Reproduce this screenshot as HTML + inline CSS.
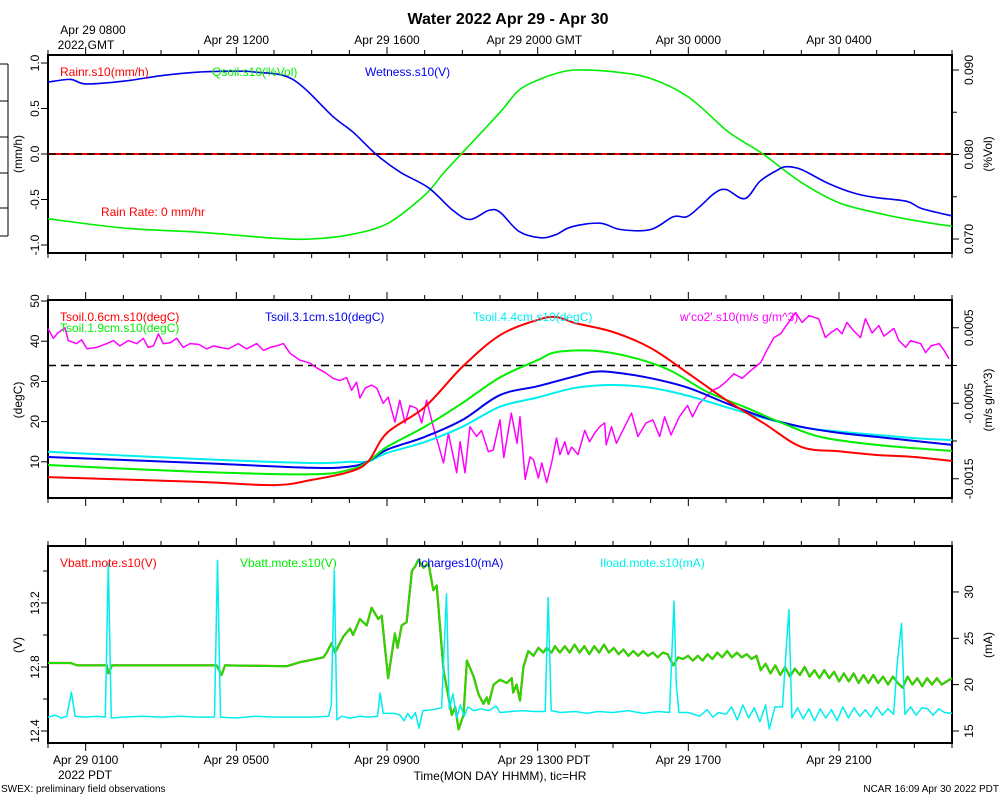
<!DOCTYPE html>
<html><head><meta charset="utf-8"><title>Water 2022 Apr 29 - Apr 30</title>
<style>
html,body{margin:0;padding:0;background:#fff;overflow:hidden;}
svg{display:block;font-family:"Liberation Sans",sans-serif;}
</style></head>
<body>
<svg id="chart" width="1000" height="800" viewBox="0 0 1000 800" xmlns="http://www.w3.org/2000/svg">
<rect width="1000" height="800" fill="#fff"/>
<text x="508" y="24" font-size="16" font-weight="bold" text-anchor="middle">Water 2022 Apr 29 - Apr 30</text>
<g id="g"></g>
<text x="500" y="780" font-size="12" text-anchor="middle">Time(MON DAY HHMM), tic=HR</text>
<text x="1" y="792" font-size="10">SWEX: preliminary field observations</text>
<text x="999" y="792" font-size="10" text-anchor="end">NCAR 16:09 Apr 30 2022 PDT</text>
</svg>
<script>
// ---------- data ----------
const topTickLabels = ["Apr 29 1200","Apr 29 1600","Apr 29 2000 GMT","Apr 30 0000","Apr 30 0400"];
const topTickHours = [5,9,13,17,21];
const botTickLabels = ["Apr 29 0100","Apr 29 0500","Apr 29 0900","Apr 29 1300 PDT","Apr 29 1700","Apr 29 2100"];
const botTickHours = [1,5,9,13,17,21];

const rainH = [0,24];
const rainV = [0,0];
const wetH = [0,0.6,1,2,3,4,5,5.5,6.5,7.57,8.1,8.7,9.35,10.1,10.75,11.2,11.7,12,12.5,13.06,13.46,13.9,14.65,15.2,16,16.6,16.96,17.3,17.7,18,18.5,18.9,19.35,19.6,20,20.7,21.4,22,22.8,23.2,24];
const wetV = [0.79,0.82,0.77,0.8,0.86,0.9,0.91,0.9,0.82,0.41,0.24,0.0,-0.2,-0.37,-0.62,-0.72,-0.62,-0.64,-0.85,-0.92,-0.89,-0.8,-0.76,-0.83,-0.83,-0.69,-0.69,-0.58,-0.43,-0.39,-0.49,-0.3,-0.18,-0.14,-0.17,-0.32,-0.43,-0.48,-0.52,-0.6,-0.68];
const qH = [0,2,4,6,7,8,9,10,10.5,11,12,12.5,13,13.5,14,15,16,17,18,18.5,19,20,21,22,23,24];
const qV = [0.0724,0.0713,0.0708,0.0701,0.0700,0.0705,0.0718,0.0752,0.0778,0.0802,0.0850,0.0876,0.0888,0.0896,0.0900,0.0898,0.0890,0.0868,0.0829,0.0814,0.0800,0.0767,0.0743,0.0731,0.0722,0.0715];

const t06H = [0,4,6,7,8,8.5,9,10,11,12,13,13.5,14,15,16,17,18,19,20,21,22,23,24];
const t06V = [6.2,5.0,4.2,5.5,7.5,10.1,17.2,23.6,33.6,41.5,45.3,46,44.5,42.3,38.3,32,25.4,19.6,13.7,12.6,11.7,11.2,10.2];
const t19H = [0,4,7,8,8.5,9,10,11,12,13,13.5,14.5,15.5,16.5,17.5,18.5,19.5,20.5,22,24];
const t19V = [9.2,7.5,6.9,8,10.1,13.7,18.7,24.6,31,35.3,37.3,37.6,36,32.8,27.4,23.6,19.6,16.2,14.2,12.7];
const t31H = [0,4,7,8,8.5,9,10,11,12,13,14,14.5,15,16,17,18,19,20,21,22,23,24];
const t31V = [11.2,9.7,8.5,8.8,10.1,13,16.2,20.4,26.6,28.8,31.3,32.4,32.3,30.8,28.4,24.6,21.1,18.7,17.2,16.2,15.2,14.2];
const t44H = [0,4,7,8,8.5,9,10,11,12,13,14,15,16,17,18,19,20,21,22,23,24];
const t44V = [12.5,10.7,9.7,10,10.1,12.2,14.9,18.7,23.7,26.0,28.4,29.1,28.4,26.4,23.6,20.9,18.6,17.5,16.7,15.9,15.4];
// w'co2' in units of 1e-4 m/s g/m^3
const wcoH = [0,0.14,0.26,0.45,0.54,0.76,0.89,1.04,1.29,1.56,1.74,1.91,2.13,2.36,2.53,2.66,2.8,2.93,3.06,3.24,3.42,3.59,3.77,4.0,4.21,4.39,4.57,4.79,5.05,5.27,5.54,5.72,5.9,6.07,6.25,6.43,6.69,6.96,7.13,7.35,7.57,7.75,7.93,8.06,8.19,8.28,8.42,8.59,8.73,8.9,9.03,9.21,9.34,9.48,9.61,9.79,9.92,10.05,10.23,10.5,10.63,10.85,10.94,11.07,11.2,11.38,11.51,11.69,11.82,12.0,12.1,12.3,12.45,12.53,12.67,12.8,12.89,13.02,13.11,13.24,13.37,13.5,13.59,13.72,13.81,13.9,14.07,14.25,14.38,14.51,14.65,14.78,14.82,14.96,15.09,15.31,15.49,15.66,15.88,16.06,16.24,16.37,16.54,16.76,16.98,17.11,17.29,17.46,17.64,17.82,17.99,18.21,18.43,18.65,18.92,19.05,19.27,19.45,19.63,19.85,20.02,20.2,20.46,20.64,20.77,20.95,21.08,21.21,21.39,21.57,21.7,21.88,22.06,22.19,22.46,22.59,22.77,22.9,23.17,23.3,23.44,23.66,23.79,23.92];
const wcoV = [4.9,3.6,4.3,5.0,3.3,2.9,3.4,2.2,2.4,2.9,3.3,2.6,3.3,2.9,3.6,2.4,2.6,4.2,2.9,3.0,3.6,2.4,2.9,2.8,2.2,2.6,2.4,2.2,2.9,2.2,2.9,2.0,2.4,2.6,2.9,1.6,0.7,0.3,-0.3,-0.9,-1.7,-2.0,-1.6,-3.3,-2.2,-4.3,-3.0,-2.6,-3.0,-5.0,-4.2,-7.5,-4.6,-7.6,-5.3,-5.7,-7.6,-4.6,-8.1,-12.9,-9.0,-14.2,-10.1,-14.2,-8.1,-9.4,-8.6,-11.4,-11.2,-7.2,-12.2,-6.3,-10.3,-6.8,-15.1,-12.1,-12.5,-14.9,-12.9,-15.5,-12.9,-9.6,-11.8,-10.1,-11.8,-10.8,-11.8,-8.6,-10.1,-9.0,-8.1,-7.6,-10.5,-8.1,-10.3,-8.1,-6.3,-9.4,-7.6,-7.2,-9.4,-6.8,-9.2,-6.8,-5.3,-6.8,-5.0,-4.2,-3.3,-2.9,-2.2,-1.1,-1.7,-0.7,0.4,1.7,3.7,4.2,5.5,7.0,5.7,6.6,6.2,3.7,4.3,4.9,4.2,5.7,4.6,3.7,6.2,4.3,5.3,3.9,4.9,3.3,2.4,3.3,2.9,1.7,2.6,2.9,2.0,0.9];

const vbH = [0,0.6,0.78,1.56,1.6,1.7,4.48,4.61,4.7,6.34,6.69,7.31,7.4,7.53,7.62,7.84,8.02,8.1,8.28,8.46,8.59,8.77,8.86,9.03,9.21,9.28,9.39,9.52,9.66,9.75,9.83,9.97,10.1,10.23,10.32,10.5,10.72,10.81,10.9,11.03,11.12,11.3,11.43,11.56,11.65,11.7,11.83,12.0,12.18,12.31,12.35,12.44,12.53,12.62,12.75,12.89,13.02,13.15,13.24,13.37,13.46,13.59,13.72,13.85,13.98,14.11,14.24,14.37,14.5,14.63,14.76,14.89,15.02,15.15,15.28,15.41,15.54,15.67,15.8,15.93,16.06,16.19,16.32,16.45,16.6,16.73,16.86,16.99,17.12,17.25,17.38,17.51,17.64,17.77,17.9,18.03,18.16,18.29,18.42,18.55,18.68,18.81,18.92,19.05,19.18,19.31,19.44,19.57,19.7,19.83,19.96,20.09,20.22,20.35,20.48,20.61,20.74,20.87,21.0,21.13,21.26,21.39,21.52,21.65,21.78,21.91,22.04,22.17,22.3,22.43,22.56,22.69,22.82,22.95,23.08,23.21,23.34,23.47,23.6,23.73,23.86,24];
const vbV = [12.825,12.825,12.81,12.81,12.76,12.81,12.81,12.75,12.81,12.805,12.83,12.86,12.89,12.95,12.89,12.99,13.04,13.0,13.1,13.06,13.17,13.1,13.12,12.73,13.01,12.92,13.06,13.08,13.4,13.43,13.47,13.42,13.45,13.28,13.31,12.78,12.5,12.55,12.41,12.5,12.84,12.74,12.63,12.57,12.61,12.57,12.69,12.72,12.7,12.73,12.64,12.69,12.59,12.8,12.9,12.87,12.92,12.89,12.92,12.89,12.93,12.89,12.93,12.89,12.94,12.89,12.93,12.88,12.93,12.89,12.94,12.89,12.92,12.88,12.91,12.87,12.9,12.87,12.9,12.87,12.89,12.86,12.89,12.88,12.81,12.86,12.85,12.87,12.84,12.87,12.84,12.88,12.85,12.89,12.86,12.9,12.86,12.89,12.86,12.88,12.85,12.87,12.78,12.82,12.76,12.81,12.75,12.8,12.74,12.79,12.75,12.8,12.74,12.78,12.73,12.78,12.73,12.77,12.71,12.76,12.71,12.76,12.7,12.75,12.7,12.75,12.7,12.74,12.69,12.74,12.7,12.67,12.74,12.69,12.73,12.68,12.73,12.69,12.73,12.69,12.71,12.73];
const ilH = [0,0.2,0.35,0.5,0.62,0.72,1.0,1.3,1.52,1.6,1.68,2.0,2.5,3.0,3.5,4.0,4.42,4.5,4.58,5.0,5.5,6.0,6.5,7.0,7.45,7.52,7.6,7.67,7.8,8.0,8.3,8.5,8.75,8.82,8.9,9.2,9.35,9.45,9.55,9.65,9.75,9.85,9.95,10.2,10.45,10.58,10.65,10.75,10.85,10.95,11.05,11.15,11.3,11.5,11.7,11.9,12.0,12.3,12.6,12.9,13.2,13.28,13.36,13.6,14.0,14.3,14.6,15.0,15.4,15.8,16.2,16.5,16.62,16.68,16.75,17.0,17.3,17.5,17.65,17.8,18.0,18.15,18.3,18.45,18.6,18.75,18.9,19.05,19.15,19.3,19.5,19.6,19.67,19.75,19.9,20.05,20.2,20.35,20.5,20.65,20.8,20.95,21.1,21.25,21.4,21.55,21.7,21.85,22.0,22.15,22.3,22.45,22.55,22.66,22.75,22.9,23.05,23.2,23.35,23.5,23.65,23.8,24];
const ilV = [16.5,16.7,16.4,16.6,19.2,16.6,16.5,16.6,16.5,33.1,16.4,16.5,16.6,16.5,16.6,16.5,16.5,33.4,16.5,16.4,16.6,16.5,16.5,16.5,16.6,17.8,32.3,16.2,16.6,16.4,16.6,16.5,16.6,19.1,16.9,16.9,16.7,16.1,16.9,16.3,17.0,15.3,17.2,17.3,17.5,29.8,17.4,19.0,16.4,17.8,16.6,17.6,17.2,17.4,17.2,17.7,17.0,17.1,17.2,17.1,17.1,29.4,17.2,17.0,17.1,16.9,17.1,17.0,17.2,16.9,17.1,17.0,29.0,20.0,17.0,17.0,16.6,17.3,16.5,17.0,16.8,17.6,16.2,17.8,16.4,17.5,16.0,17.8,15.2,17.6,17.6,24.0,28.1,16.4,17.5,16.3,17.4,16.1,17.4,16.4,17.3,16.1,17.6,16.4,17.5,16.6,17.3,16.5,17.6,16.7,17.4,16.8,22.5,26.6,16.8,17.6,16.7,17.5,17.4,16.7,17.4,17.0,16.9];

// ---------- geometry ----------
const X0 = 48, X1 = 952;
const xs = h => X0 + h * (X1 - X0) / 24;
const P1 = {top:55, bot:253}, P2 = {top:300, bot:498}, P3 = {top:546, bot:743};
const yWet = v => 154 - v * 91;
const yQ = v => 239 - (v - 0.070) * 8450;
const yT = v => 301 + (50 - v) * 4.02;
const yW = v => 365.5 - v * 7.55;        // v in 1e-4 units
const yVb = v => 731 - (v - 12.4) * 160;
const yI = v => 731 - (v - 15) * 9.27;

const NS = "http://www.w3.org/2000/svg";
const g = document.getElementById('g');
function mk(tag, attrs, parent){ const e=document.createElementNS(NS,tag); for(const k in attrs) e.setAttribute(k,attrs[k]); (parent||g).appendChild(e); return e; }
function txt(x,y,s,size,fill,anchor,rot){ const t=mk('text',{x:x,y:y,'font-size':size,fill:fill||'#000','text-anchor':anchor||'start'}); if(rot) t.setAttribute('transform','rotate(-90 '+x+' '+y+')'); t.textContent=s; return t; }
function smoothPath(H,V,fy){
  const p=H.map((h,i)=>[xs(h),fy(V[i])]);
  let d='M'+p[0][0].toFixed(1)+','+p[0][1].toFixed(1);
  for(let i=0;i<p.length-1;i++){
    const p0=p[Math.max(0,i-1)],p1=p[i],p2=p[i+1],p3=p[Math.min(p.length-1,i+2)];
    const c1=[p1[0]+(p2[0]-p0[0])/6,p1[1]+(p2[1]-p0[1])/6];
    const c2=[p2[0]-(p3[0]-p1[0])/6,p2[1]-(p3[1]-p1[1])/6];
    d+=' C'+c1[0].toFixed(1)+','+c1[1].toFixed(1)+' '+c2[0].toFixed(1)+','+c2[1].toFixed(1)+' '+p2[0].toFixed(1)+','+p2[1].toFixed(1);
  }
  return d;
}
function polyPath(H,V,fy){ const n=Math.min(H.length,V.length); let d=''; for(let i=0;i<n;i++){ d+=(i?'L':'M')+xs(H[i]).toFixed(1)+','+fy(V[i]).toFixed(1)+' '; } return d; }
function series(d,color,w,name){ const e=mk('path',{d:d,fill:'none',stroke:color,'stroke-width':w,'stroke-linejoin':'round'});
  
  
  return e; }

// frames + hour ticks
[P1,P2,P3].forEach((P,pi)=>{
  const f=mk('rect',{x:X0,y:P.top,width:X1-X0,height:P.bot-P.top,fill:'none',stroke:'#000','stroke-width':2});
  
  
  for(let h=0;h<=24;h++){
    const major=(h%4===1);
    const L=major?8:5;
    mk('line',{x1:xs(h),x2:xs(h),y1:P.top,y2:P.top-L,stroke:'#000','stroke-width':1});
    mk('line',{x1:xs(h),x2:xs(h),y1:P.bot,y2:P.bot+L,stroke:'#000','stroke-width':1});
  }
});
// top time labels
txt(93,34,'Apr 29 0800',12,'#000','middle');
txt(86,49,'2022 GMT',12,'#000','middle');
topTickHours.forEach((h,i)=>{ const l=topTickLabels[i]; const t= l.endsWith('GMT') ? txt(xs(h)-51,44,l,12,'#000','start') : txt(xs(h),44,l,12,'#000','middle');
  
   });
botTickHours.forEach((h,i)=>{ const l=botTickLabels[i]; const t= l.endsWith('PDT') ? txt(xs(h)-40,764,l,12,'#000','start') : txt(xs(h),764,l,12,'#000','middle');
  
   });
txt(85,779,'2022 PDT',12,'#000','middle');

// y axes helper
function yaxisL(vals,labels,fy,minor){
  vals.forEach((v,i)=>{ const y=fy(v); mk('line',{x1:X0,x2:X0-7,y1:y,y2:y,stroke:'#000'}); if(labels[i]!=='') txt(39,y,labels[i],12,'#000','middle',true); });
  (minor||[]).forEach(v=>{ const y=fy(v); mk('line',{x1:X0,x2:X0-5,y1:y,y2:y,stroke:'#000'}); });
}
function yaxisR(vals,labels,fy,minor){
  vals.forEach((v,i)=>{ const y=fy(v); mk('line',{x1:X1,x2:X1+7,y1:y,y2:y,stroke:'#000'}); txt(973,y,labels[i],12,'#000','middle',true); });
  (minor||[]).forEach(v=>{ const y=fy(v); mk('line',{x1:X1,x2:X1+5,y1:y,y2:y,stroke:'#000'}); });
}
yaxisL([1,0.5,0,-0.5,-1],['1.0','0.5','0.0','-0.5','-1.0'],yWet);
yaxisR([0.090,0.080,0.070],['0.090','0.080','0.070'],yQ,[0.085,0.075]);
yaxisL([50,40,30,20,10],['50','40','30','20','10'],yT);
yaxisR([5,-5,-15],['0.0005','-0.0005','-0.0015'],yW,[0,-10]);
yaxisL([12.4,12.8,13.2],['12.4','12.8','13.2'],yVb,[12.6,13.0,13.4]);
yaxisR([15,20,25,30],['15','20','25','30'],yI);
txt(22,154,'(mm/h)',12,'#000','middle',true);
txt(992,154,'(%Vol)',12,'#000','middle',true);
txt(22,400,'(degC)',12,'#000','middle',true);
txt(992,400,"(m/s g/m^3)",12,'#000','middle',true);
txt(22,645,'(V)',12,'#000','middle',true);
txt(992,645,'(mA)',12,'#000','middle',true);
// left edge artifact
mk('line',{x1:8,x2:8,y1:64,y2:236,stroke:'#000'});
[64,101,137,173,208,236].forEach(y=>mk('line',{x1:0,x2:8,y1:y,y2:y,stroke:'#000'}));

// ---------- panel 1 ----------
series(polyPath(rainH,rainV,yWet),'#ff0000',2,'rain-rate-line');
mk('line',{x1:X0,x2:X1,y1:yWet(0),y2:yWet(0),stroke:'#000','stroke-width':1.5,'stroke-dasharray':'8,5'});
series(smoothPath(qH,qV,yQ),'#00ee00',1.6,'qsoil-line');
series(smoothPath(wetH,wetV,yWet),'#0000ee',1.6,'wetness-line');
txt(60,76,'Rainr.s10(mm/h)',12,'#ff0000');
txt(212,76,'Qsoil.s10(%Vol)',12,'#00ee00');
txt(365,76,'Wetness.s10(V)',12,'#0000ee');
txt(101,216,'Rain Rate: 0 mm/hr',12,'#ff0000');

// ---------- panel 2 ----------
mk('line',{x1:X0,x2:X1,y1:yW(0),y2:yW(0),stroke:'#000','stroke-width':1.5,'stroke-dasharray':'8,5'});
series(polyPath(wcoH,wcoV,yW),'#ff00ff',1.5,'wco2-line');
series(smoothPath(t44H,t44V,yT),'#00eeee',2,'tsoil-4-4cm-line');
series(smoothPath(t31H,t31V,yT),'#0000ee',2,'tsoil-3-1cm-line');
series(smoothPath(t19H,t19V,yT),'#00ee00',2,'tsoil-1-9cm-line');
series(smoothPath(t06H,t06V,yT),'#ff0000',2,'tsoil-0-6cm-line');
txt(60,321,'Tsoil.0.6cm.s10(degC)',12,'#ff0000');
txt(60,332,'Tsoil.1.9cm.s10(degC)',12,'#00ee00');
txt(265,321,'Tsoil.3.1cm.s10(degC)',12,'#0000ee');
txt(473,321,'Tsoil.4.4cm.s10(degC)',12,'#00eeee');
txt(680,321,"w'co2'.s10(m/s g/m^3)",12,'#ff00ff');

// ---------- panel 3 ----------
series(polyPath(vbH,vbV,yVb),'#dd2200',2.2,'vbatt-red-line');
series(polyPath(vbH,vbV,yVb),'#22dd00',2,'vbatt-green-line');
series(polyPath(ilH,ilV,yI),'#00eeee',1.5,'iload-line');
txt(60,567,'Vbatt.mote.s10(V)',12,'#ff0000');
txt(240,567,'Vbatt.mote.s10(V)',12,'#00ee00');
txt(418,567,'Icharges10(mA)',12,'#0000ee');
txt(600,567,'Iload.mote.s10(mA)',12,'#00eeee');
</script>
</body></html>
